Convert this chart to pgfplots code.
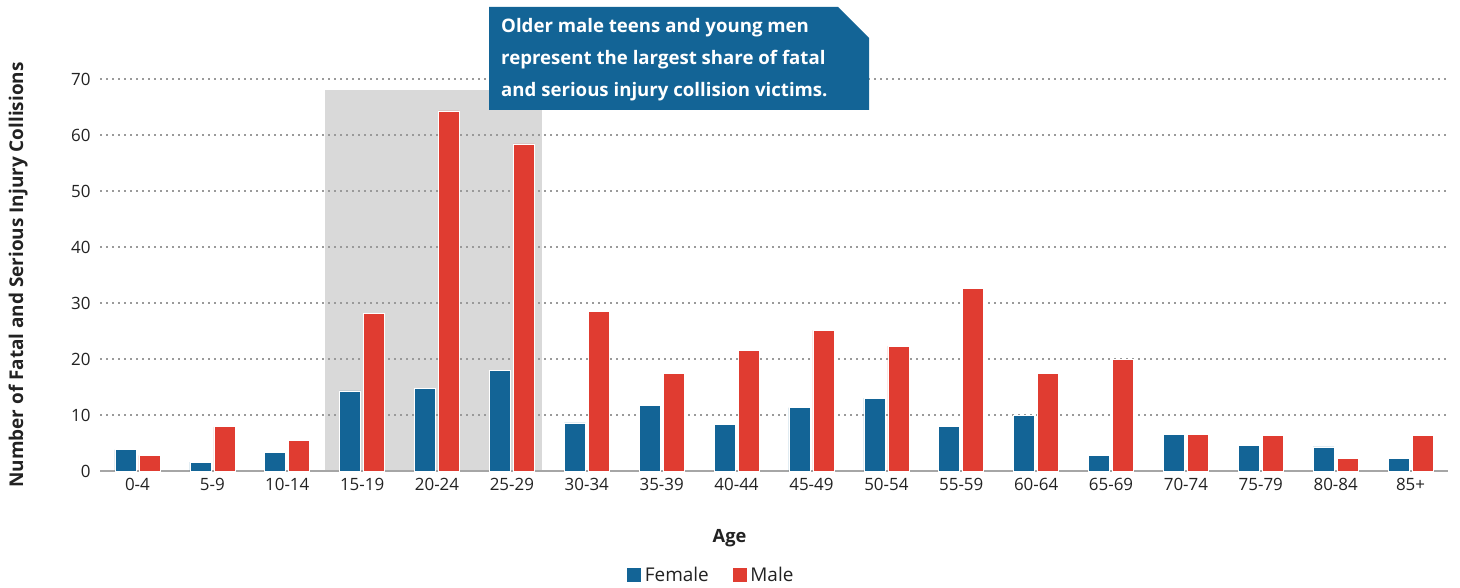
\documentclass[border=0pt]{standalone}
\usepackage{pgfplots}
\pgfplotsset{compat=1.18}
\usepackage{pgfplotstable}
\usepackage{fontspec}
\setmainfont{Open Sans}
\usetikzlibrary{calc}
\definecolor{fem}{HTML}{136496}
\definecolor{mal}{HTML}{E03C31}
\definecolor{shadec}{HTML}{D9D9D9}
\definecolor{gridc}{HTML}{9A9A9A}
\definecolor{axc}{HTML}{A6A6A6}
\definecolor{txt}{HTML}{222222}

\pgfplotstableread{
x F M
0 3.8 2.8
1 1.6 7.9
2 3.3 5.5
3 14.3 28.2
4 14.8 64.3
5 17.9 58.4
6 8.6 28.5
7 11.7 17.5
8 8.3 21.6
9 11.3 25.1
10 13.0 22.3
11 7.9 32.6
12 10.0 17.5
13 2.8 20.0
14 6.5 6.5
15 4.6 6.3
16 4.3 2.3
17 2.3 6.3
}\data

\begin{document}
\begin{tikzpicture}
\begin{axis}[name=ax, set layers, scale only axis, width=1348bp, height=392bp,
  xmin=-0.5, xmax=17.5, ymin=0, ymax=70,
  xtick={0,...,17},
  xticklabels={0-4,5-9,10-14,15-19,20-24,25-29,30-34,35-39,40-44,45-49,50-54,55-59,60-64,65-69,70-74,75-79,80-84,85+},
  ytick={0,10,...,70},
  /pgf/number format/assume math mode=true,
  axis x line*=bottom, axis y line*=left,
  x axis line style={axc, line width=2bp},
  y axis line style={draw=none},
  major tick length=0,
  ymajorgrids,
  grid style={gridc, line width=1.5bp, dash pattern=on 1.5bp off 4.5bp},
  tick label style={font=\fontsize{17}{20}\selectfont, text=txt},
  xticklabel style={yshift=-4bp},
  yticklabel style={xshift=-6bp},
  xlabel={Age},
  xlabel style={at={(axis description cs:0.467,-0.171)}, anchor=center, font=\bfseries\fontsize{18.3}{20}\selectfont, text=txt},
  ylabel={Number of Fatal and Serious Injury Collisions},
  ylabel style={at={(axis description cs:-0.0608,0.5)}, anchor=center, font=\bfseries\fontsize{19}{22}\selectfont, text=txt},
  legend columns=2,
  legend style={at={(axis description cs:0.4535,-0.265)}, anchor=center, draw=none, fill=none,
    font=\fontsize{19}{22}\selectfont, text=txt,
    /tikz/every even column/.append style={column sep=22bp}},
]
\begin{pgfonlayer}{axis background}
\fill[shadec] (axis cs:2.5,0) rectangle (axis cs:5.4,68);
\end{pgfonlayer}
\addplot[ybar, bar width=0.28, bar shift=-0.16, fill=fem, draw=white, line width=0.6bp,
  legend image code/.code={\fill[fem] (0bp,-6.5bp) rectangle (13bp,6.5bp); \path (15bp,0bp);}] table[x=x,y=F]{\data};
\addplot[ybar, bar width=0.28, bar shift=0.16, fill=mal, draw=white, line width=0.6bp,
  legend image code/.code={\fill[mal] (0bp,-6.5bp) rectangle (13bp,6.5bp); \path (15bp,0bp);}] table[x=x,y=M]{\data};
\legend{Female,Male}
\end{axis}
\begin{scope}[shift={($(ax.south west)+(-100bp,471bp)$)}, x=1bp, y=-1bp]
\fill[fem] (489,7) -- (838,7) -- (869,38) -- (869,110) -- (489,110) -- cycle;
\begin{scope}[every node/.style={anchor=base west, text=white, inner sep=0, font=\bfseries\fontsize{18.7}{21}\selectfont}]
\node at (501,33) {Older male teens and young men};
\node at (501,65) {represent the largest share of fatal};
\node at (501,97) {and serious injury collision victims.};
\end{scope}
\pgfresetboundingbox
\path (0,0) rectangle (1460,588);
\end{scope}
\end{tikzpicture}
\end{document}
